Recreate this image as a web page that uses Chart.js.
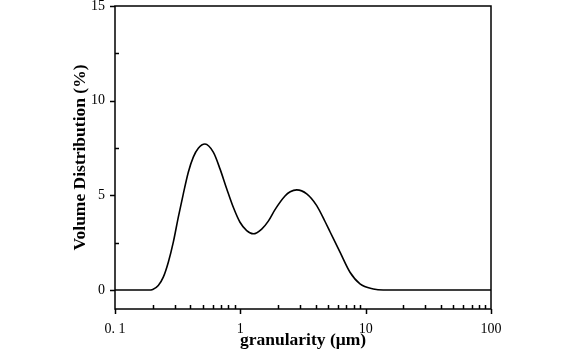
<!DOCTYPE html>
<html>
<head>
<meta charset="utf-8">
<script src="https://cdn.jsdelivr.net/npm/chart.js@4/dist/chart.umd.min.js"></script>
<style>
  html, body { margin: 0; padding: 0; background: #fff; }
  #wrap { width: 572px; height: 352px; position: relative; }
</style>
</head>
<body>
<div id="wrap"><canvas id="c" width="572" height="352"></canvas></div>
<script>
// Particle size (µm) and volume distribution (%)
const sizes   = [0.1, 0.185, 0.200, 0.2215, 0.2428, 0.2663, 0.2919, 0.320, 0.3508, 0.3845, 0.4214, 0.462, 0.5224, 0.6085, 0.6883, 0.7785, 0.8789, 0.9938, 1.124, 1.269, 1.481, 1.672, 1.891, 2.272, 2.50, 2.818, 3.386, 4.068, 4.739, 5.194, 6.242, 7.499, 9.01, 11.5, 13.8, 100];
const volumes = [0,   0,     0.03,  0.24,   0.68,   1.47,   2.53,   3.85,  5.08,   6.22,   7.02,   7.49,  7.71,   7.28,   6.40,   5.35,   4.37,   3.58,   3.14,  2.97,  3.22,  3.64,  4.25,  4.97,  5.19, 5.29,  5.08,  4.46,  3.62,  3.08,  2.00,  0.94,  0.33, 0.06, 0,    0];

const xTickValues = [0.1, 1, 10, 100];
const xTickLabels = ['0. 1', '1', '10', '100'];
const xMinorValues = [2, 3, 4, 5, 6, 7, 8, 9, 20, 30, 40, 50, 60, 70, 80, 90, 200, 300, 400, 500, 600, 700, 800, 900].map(v => v / 10);
const yTickValues = [0, 5, 10, 15];
const yMinorValues = [2.5, 7.5, 12.5];

const xTitle = 'granularity (\u03bcm)';
const yTitle = 'Volume Distribution (%)';

const points = sizes.map((s, i) => ({ x: s, y: volumes[i] }));

const frameTicks = {
  id: 'frameTicks',
  afterDraw(chart) {
    const { ctx, chartArea: a, scales: { x, y } } = chart;
    ctx.save();
    ctx.strokeStyle = '#000';
    ctx.lineWidth = 1.5;
    ctx.strokeRect(a.left, a.top, a.right - a.left, a.bottom - a.top);
    ctx.beginPath();
    yTickValues.forEach(v => { const p = Math.round(y.getPixelForValue(v)) + 0.5; ctx.moveTo(a.left - 5, p); ctx.lineTo(a.left, p); });
    yMinorValues.forEach(v => { const p = Math.round(y.getPixelForValue(v)) + 0.5; ctx.moveTo(a.left, p); ctx.lineTo(a.left + 4, p); });
    xTickValues.forEach(v => { const p = Math.round(x.getPixelForValue(v)) + 0.5; ctx.moveTo(p, a.bottom); ctx.lineTo(p, a.bottom + 5); });
    xMinorValues.forEach(v => { if (v > 100) return; const p = Math.round(x.getPixelForValue(v)) + 0.5; ctx.moveTo(p, a.bottom); ctx.lineTo(p, a.bottom - 4); });
    ctx.stroke();
    ctx.restore();
  }
};

new Chart(document.getElementById('c'), {
  type: 'line',
  data: {
    datasets: [{
      data: points,
      borderColor: '#000',
      borderWidth: 1.6,
      pointRadius: 0,
      fill: false,
      cubicInterpolationMode: 'monotone'
    }]
  },
  options: {
    responsive: false,
    animation: false,
    events: [],
    layout: { padding: { left: 70, right: 81, top: 6, bottom: 0 } },
    plugins: { legend: { display: false }, tooltip: { enabled: false } },
    scales: {
      x: {
        type: 'logarithmic',
        min: 0.1,
        max: 100,
        afterBuildTicks: s => { s.ticks = xTickValues.map(v => ({ value: v })); },
        afterFit: s => { s.height = 43; s.paddingLeft = 0; s.paddingRight = 0; },
        grid: { display: false, drawTicks: false },
        border: { display: false },
        ticks: {
          autoSkip: false,
          maxRotation: 0,
          padding: 12,
          color: '#000',
          font: { family: 'Liberation Serif', size: 14 },
          callback: (v) => { const i = xTickValues.indexOf(v); return i >= 0 ? xTickLabels[i] : ''; }
        },
        title: {
          display: true,
          text: xTitle,
          color: '#000',
          font: { family: 'Liberation Serif', size: 17.5, weight: 'bold' },
          padding: { top: 0, bottom: 1 }
        }
      },
      y: {
        type: 'linear',
        min: -1,
        max: 15,
        afterBuildTicks: s => { s.ticks = yTickValues.map(v => ({ value: v })); },
        afterFit: s => { s.width = 45; s.paddingTop = 0; s.paddingBottom = 0; },
        grid: { display: false, drawTicks: false },
        border: { display: false },
        ticks: {
          padding: 10,
          color: '#000',
          font: { family: 'Liberation Serif', size: 14 }
        },
        title: {
          display: true,
          text: yTitle,
          color: '#000',
          font: { family: 'Liberation Serif', size: 17.5, weight: 'bold' },
          padding: { top: 0, bottom: 0 }
        }
      }
    }
  },
  plugins: [frameTicks]
});
</script>
</body>
</html>
